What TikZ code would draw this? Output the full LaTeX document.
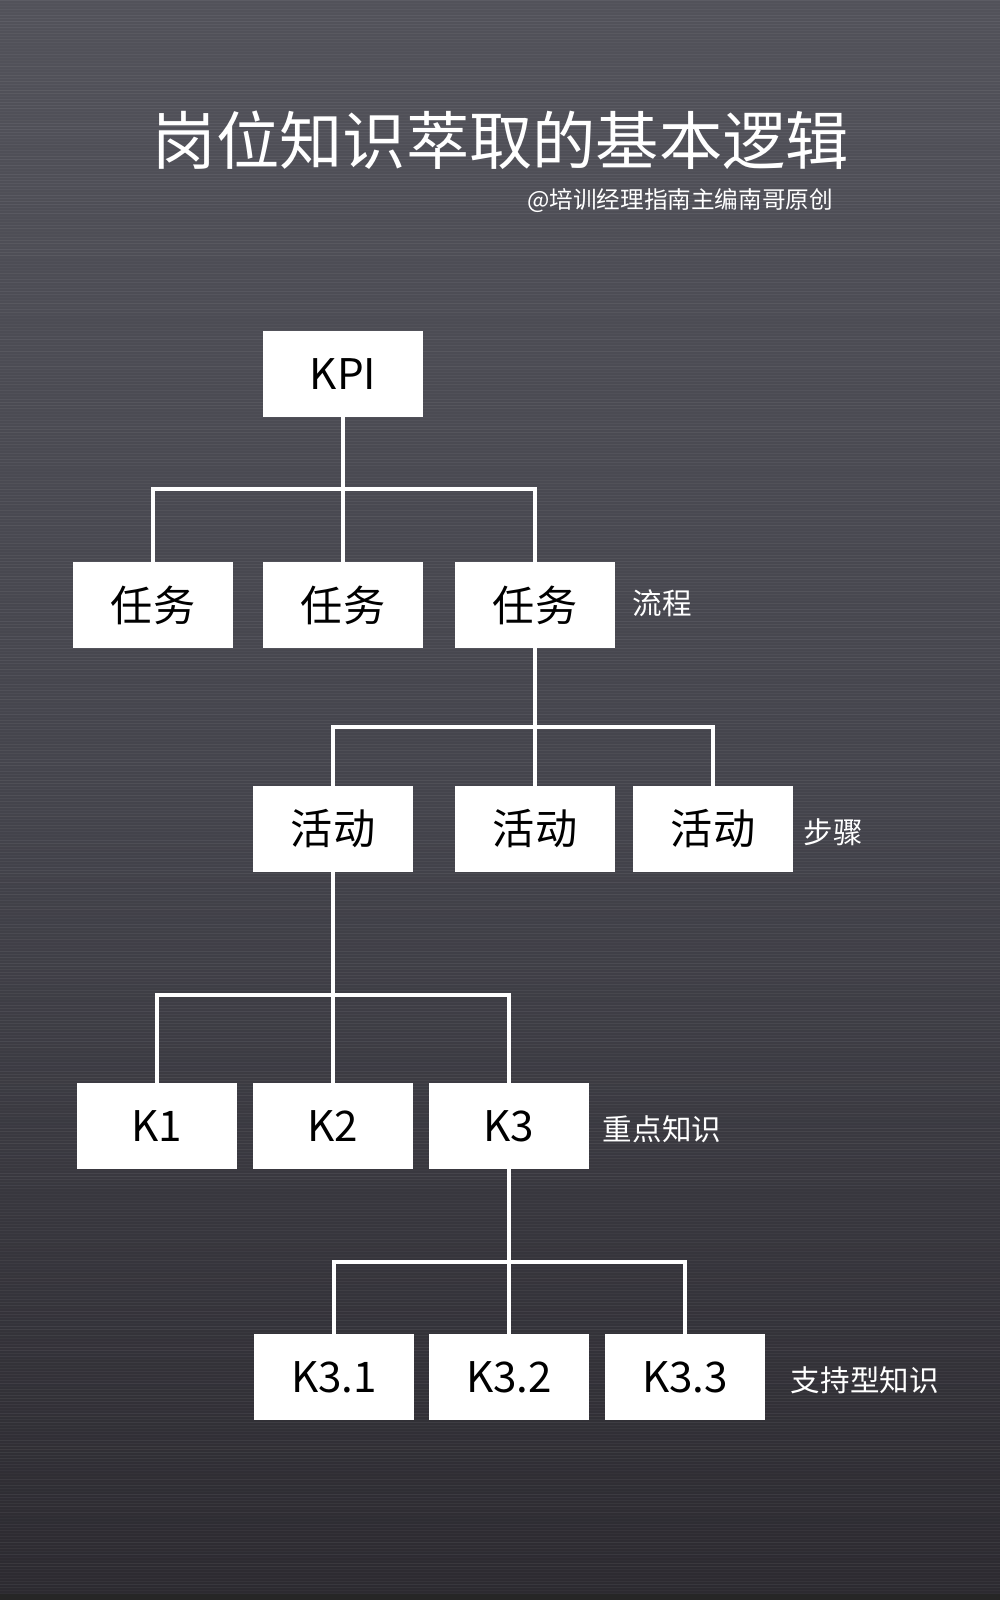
\documentclass[tikz,border=0pt]{standalone}
\usepackage{fontspec}
\setmainfont{Noto Sans CJK SC}
\usetikzlibrary{positioning}
\definecolor{bgtop}{RGB}{82,82,90}
\definecolor{bgmid}{RGB}{68,68,76}
\definecolor{bgbot}{RGB}{44,42,48}
\tikzset{
  box/.style={fill=white, draw=none, minimum width=4cm, minimum height=2.15cm, inner sep=0pt, text=black, font=\fontsize{30}{30}\selectfont},
  link/.style={draw=white, line width=2.6pt},
  side/.style={text=white, anchor=west, font=\fontsize{21}{21}\selectfont},
}
\begin{document}
\begin{tikzpicture}[x=0.025cm,y=-0.025cm]
\useasboundingbox (0,0) rectangle (1000,1600);
% background
\shade[top color=bgtop, bottom color=bgbot, middle color=bgmid] (0,0) rectangle (1000,1600);
\pgfmathsetseed{7}
\foreach \i in {0,3,...,1600} {
  \pgfmathsetmacro{\op}{0.02+0.05*rnd}
  \draw[white, opacity=\op, line width=0.5pt] (0,\i) -- (1000,\i);
}
\fill[black!85] (0,1594) rectangle (1000,1600);
% title
\node[text=white, font=\fontsize{45}{45}\selectfont] (title) at (501,140) {岗位知识萃取的基本逻辑};
\node[text=white, anchor=east, font=\fontsize{16.8}{16.8}\selectfont] (byline) at (838,201) {@培训经理指南主编南哥原创};
% level 1
\node[box] (kpi) at (343,374) {KPI};
% level 2
\node[box] (t1) at (153,605) {任务};
\node[box] (t2) at (343,605) {任务};
\node[box] (t3) at (535,605) {任务};
\node[side] (lb1) at (628,603) {流程};
% level 3
\node[box] (a1) at (333,829) {活动};
\node[box] (a2) at (535,829) {活动};
\node[box] (a3) at (713,829) {活动};
\node[side] (lb2) at (799,832) {步骤};
% level 4
\node[box] (k1) at (157,1126) {K1};
\node[box] (k2) at (333,1126) {K2};
\node[box] (k3) at (509,1126) {K3};
\node[side] (lb3) at (598,1129) {重点知识};
% level 5
\node[box] (k31) at (334,1377) {K3.1};
\node[box] (k32) at (509,1377) {K3.2};
\node[box] (k33) at (685,1377) {K3.3};
\node[side] (lb4) at (786,1380) {支持型知识};
% buses
\coordinate (b1) at (343,489);
\coordinate (b2) at (535,727);
\coordinate (b3) at (333,995);
\coordinate (b4) at (509,1262);
\draw[link] (kpi) -- (t2);
\draw[link] (t1) |- (b1) -| (t3);
\draw[link] (t3) -- (a2);
\draw[link] (a1) |- (b2) -| (a3);
\draw[link] (a1) -- (k2);
\draw[link] (k1) |- (b3) -| (k3);
\draw[link] (k3) -- (k32);
\draw[link] (k31) |- (b4) -| (k33);
\end{tikzpicture}
\end{document}
